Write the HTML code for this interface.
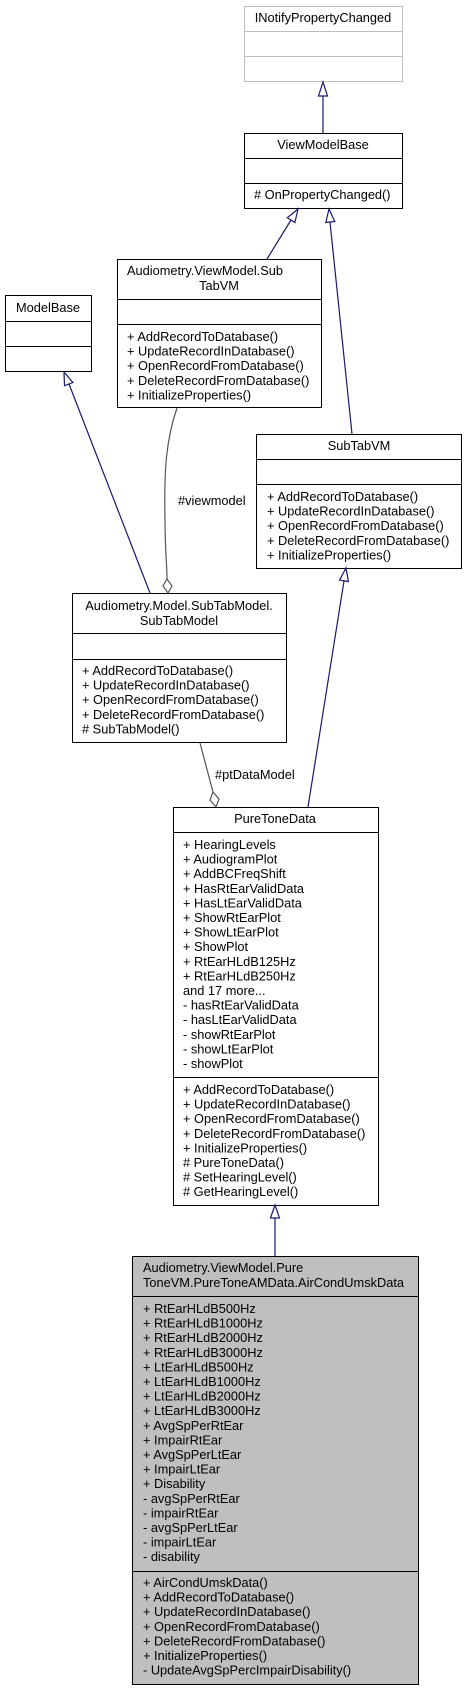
<!DOCTYPE html>
<html><head><meta charset="utf-8"><style>
html,body{margin:0;padding:0;background:#fff;}
svg{display:block;}
text{font-family:"Liberation Sans",Arial,sans-serif;font-size:12.8px;fill:#000;}
</style></head><body>
<svg width="467" height="1691" viewBox="0 0 467 1691" xmlns="http://www.w3.org/2000/svg">
<g fill="#fff" stroke="#000" stroke-width="1">
<rect x="244.5" y="6.5" width="158" height="75" stroke="#bfbfbf"/>
<line x1="244.5" y1="31.5" x2="402.5" y2="31.5" stroke="#bfbfbf"/>
<line x1="244.5" y1="56.5" x2="402.5" y2="56.5" stroke="#bfbfbf"/>
<rect x="244.5" y="133.5" width="158" height="75"/>
<line x1="244.5" y1="158.5" x2="402.5" y2="158.5"/>
<line x1="244.5" y1="183.5" x2="402.5" y2="183.5"/>
<rect x="117.5" y="259.5" width="204" height="148"/>
<line x1="117.5" y1="299.5" x2="321.5" y2="299.5"/>
<line x1="117.5" y1="324.5" x2="321.5" y2="324.5"/>
<rect x="5.5" y="295.5" width="86" height="76"/>
<line x1="5.5" y1="321.5" x2="91.5" y2="321.5"/>
<line x1="5.5" y1="346.5" x2="91.5" y2="346.5"/>
<rect x="256.5" y="434.5" width="205" height="134"/>
<line x1="256.5" y1="459.5" x2="461.5" y2="459.5"/>
<line x1="256.5" y1="484.5" x2="461.5" y2="484.5"/>
<rect x="72.5" y="593.5" width="214" height="149"/>
<line x1="72.5" y1="633.5" x2="286.5" y2="633.5"/>
<line x1="72.5" y1="659.5" x2="286.5" y2="659.5"/>
<rect x="173.5" y="807.5" width="205" height="398"/>
<line x1="173.5" y1="832.5" x2="378.5" y2="832.5"/>
<line x1="173.5" y1="1077.5" x2="378.5" y2="1077.5"/>
<rect x="132.5" y="1256.5" width="286" height="428" fill="#bfbfbf"/>
<line x1="132.5" y1="1296.5" x2="418.5" y2="1296.5"/>
<line x1="132.5" y1="1571.5" x2="418.5" y2="1571.5"/>
</g>

<g fill="none" stroke="#191970" stroke-width="1.2">
<line x1="323" y1="96" x2="323" y2="133"/>
<line x1="291" y1="220" x2="267" y2="259"/>
<line x1="330" y1="222" x2="352" y2="434"/>
<line x1="69" y1="384" x2="150" y2="593"/>
<line x1="344" y1="581" x2="308" y2="807"/>
<line x1="275" y1="1218" x2="275" y2="1256"/>
</g>
<g fill="#fff" stroke="#191970" stroke-width="1.2">
<polygon points="323,82 318.5,96 327.5,96"/>
<polygon points="298,209 287.3,217.7 294.9,222.5"/>
<polygon points="329,209 334.8,221.5 325.8,222.5"/>
<polygon points="64,372 72.9,382.5 64.5,385.7"/>
<polygon points="346,568 348.4,581.5 339.6,580.1"/>
<polygon points="275,1205 270.5,1218 279.5,1218"/>
</g>
<g fill="none" stroke="#555" stroke-width="1.2">
<path d="M177,408 C166,440 164,470 165,520 C165,550 167,565 167,579"/>
<polygon points="168,593 163,586 167,579 172,586" fill="#fff"/>
<line x1="200" y1="743" x2="213" y2="792"/>
<polygon points="216,807 210,800 213,792 219,799" fill="#fff"/>
</g>
<text x="178" y="505">#viewmodel</text>
<text x="215" y="779">#ptDataModel</text>

<text x="323" y="22" text-anchor="middle">INotifyPropertyChanged</text>
<text x="323" y="149" text-anchor="middle">ViewModelBase</text>
<text x="254" y="199"># OnPropertyChanged()</text>

<text x="127" y="275">Audiometry.ViewModel.Sub</text>
<text x="219" y="290" text-anchor="middle">TabVM</text>
<text x="127" y="341">+ AddRecordToDatabase()</text>
<text x="127" y="355.6">+ UpdateRecordInDatabase()</text>
<text x="127" y="370.2">+ OpenRecordFromDatabase()</text>
<text x="127" y="384.8">+ DeleteRecordFromDatabase()</text>
<text x="127" y="399.4">+ InitializeProperties()</text>

<text x="48" y="312" text-anchor="middle">ModelBase</text>

<text x="359" y="450" text-anchor="middle">SubTabVM</text>
<text x="267" y="501">+ AddRecordToDatabase()</text>
<text x="267" y="515.6">+ UpdateRecordInDatabase()</text>
<text x="267" y="530.2">+ OpenRecordFromDatabase()</text>
<text x="267" y="544.8">+ DeleteRecordFromDatabase()</text>
<text x="267" y="559.4">+ InitializeProperties()</text>

<text x="179" y="610" text-anchor="middle">Audiometry.Model.SubTabModel.</text>
<text x="179" y="625" text-anchor="middle">SubTabModel</text>
<text x="82" y="675">+ AddRecordToDatabase()</text>
<text x="82" y="689.6">+ UpdateRecordInDatabase()</text>
<text x="82" y="704.2">+ OpenRecordFromDatabase()</text>
<text x="82" y="718.8">+ DeleteRecordFromDatabase()</text>
<text x="82" y="733.4"># SubTabModel()</text>

<text x="275" y="823" text-anchor="middle">PureToneData</text>
<text x="183" y="849">+ HearingLevels</text>
<text x="183" y="863.6">+ AudiogramPlot</text>
<text x="183" y="878.2">+ AddBCFreqShift</text>
<text x="183" y="892.8">+ HasRtEarValidData</text>
<text x="183" y="907.4">+ HasLtEarValidData</text>
<text x="183" y="922">+ ShowRtEarPlot</text>
<text x="183" y="936.6">+ ShowLtEarPlot</text>
<text x="183" y="951.2">+ ShowPlot</text>
<text x="183" y="965.8">+ RtEarHLdB125Hz</text>
<text x="183" y="980.4">+ RtEarHLdB250Hz</text>
<text x="183" y="995">and 17 more...</text>
<text x="183" y="1009.6">- hasRtEarValidData</text>
<text x="183" y="1024.2">- hasLtEarValidData</text>
<text x="183" y="1038.8">- showRtEarPlot</text>
<text x="183" y="1053.4">- showLtEarPlot</text>
<text x="183" y="1068">- showPlot</text>
<text x="183" y="1094">+ AddRecordToDatabase()</text>
<text x="183" y="1108.6">+ UpdateRecordInDatabase()</text>
<text x="183" y="1123.2">+ OpenRecordFromDatabase()</text>
<text x="183" y="1137.8">+ DeleteRecordFromDatabase()</text>
<text x="183" y="1152.4">+ InitializeProperties()</text>
<text x="183" y="1167"># PureToneData()</text>
<text x="183" y="1181.6"># SetHearingLevel()</text>
<text x="183" y="1196.2"># GetHearingLevel()</text>

<text x="143" y="1272">Audiometry.ViewModel.Pure</text>
<text x="143" y="1287">ToneVM.PureToneAMData.AirCondUmskData</text>
<text x="143" y="1313">+ RtEarHLdB500Hz</text>
<text x="143" y="1327.6">+ RtEarHLdB1000Hz</text>
<text x="143" y="1342.2">+ RtEarHLdB2000Hz</text>
<text x="143" y="1356.8">+ RtEarHLdB3000Hz</text>
<text x="143" y="1371.4">+ LtEarHLdB500Hz</text>
<text x="143" y="1386">+ LtEarHLdB1000Hz</text>
<text x="143" y="1400.6">+ LtEarHLdB2000Hz</text>
<text x="143" y="1415.2">+ LtEarHLdB3000Hz</text>
<text x="143" y="1429.8">+ AvgSpPerRtEar</text>
<text x="143" y="1444.4">+ ImpairRtEar</text>
<text x="143" y="1459">+ AvgSpPerLtEar</text>
<text x="143" y="1473.6">+ ImpairLtEar</text>
<text x="143" y="1488.2">+ Disability</text>
<text x="143" y="1502.8">- avgSpPerRtEar</text>
<text x="143" y="1517.4">- impairRtEar</text>
<text x="143" y="1532">- avgSpPerLtEar</text>
<text x="143" y="1546.6">- impairLtEar</text>
<text x="143" y="1561.2">- disability</text>
<text x="143" y="1587">+ AirCondUmskData()</text>
<text x="143" y="1601.6">+ AddRecordToDatabase()</text>
<text x="143" y="1616.2">+ UpdateRecordInDatabase()</text>
<text x="143" y="1630.8">+ OpenRecordFromDatabase()</text>
<text x="143" y="1645.4">+ DeleteRecordFromDatabase()</text>
<text x="143" y="1660">+ InitializeProperties()</text>
<text x="143" y="1674.6">- UpdateAvgSpPercImpairDisability()</text>
</svg>
</body></html>
